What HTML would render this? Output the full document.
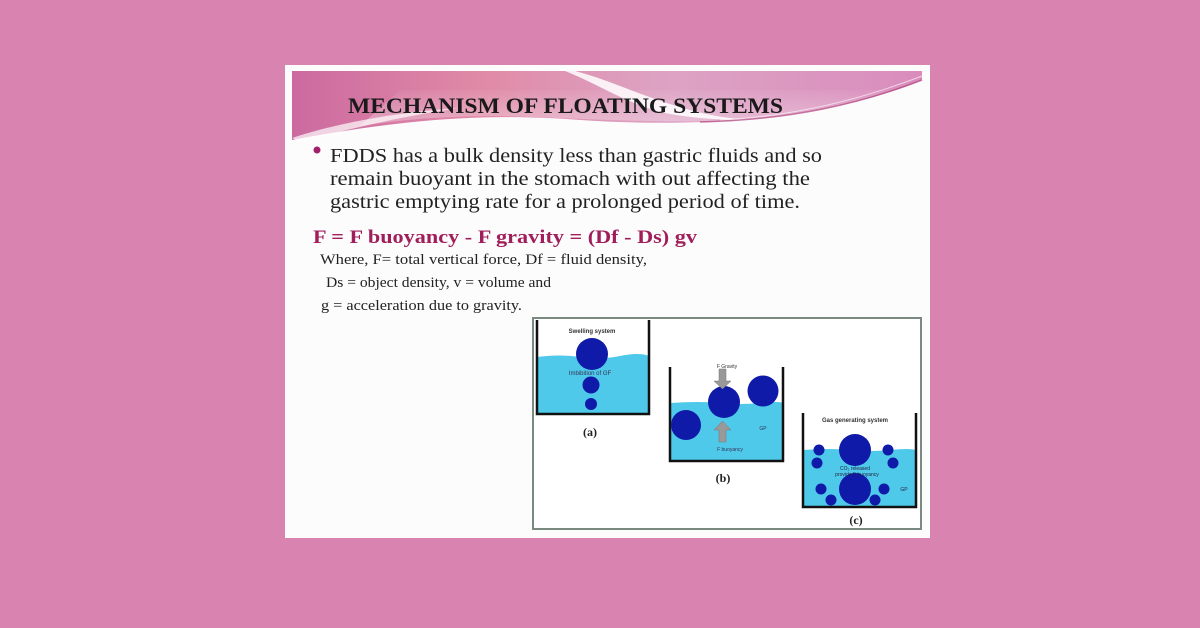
<!DOCTYPE html>
<html><head><meta charset="utf-8"><style>
html,body{margin:0;padding:0;background:#d983b0;}
svg{display:block}
</style></head><body>
<svg width="1200" height="628" viewBox="0 0 1200 628" xmlns="http://www.w3.org/2000/svg">
<defs>
<linearGradient id="hg" x1="0" y1="0" x2="1" y2="0">
<stop offset="0" stop-color="#cc6aa0"/><stop offset="0.3" stop-color="#e08aa6"/><stop offset="0.6" stop-color="#dda3c4"/><stop offset="1" stop-color="#d98cbc"/>
</linearGradient>
<linearGradient id="fade" x1="0" y1="0" x2="0" y2="1">
<stop offset="0" stop-color="#fff" stop-opacity="0"/><stop offset="1" stop-color="#fff" stop-opacity="0.35"/>
</linearGradient>
</defs>
<rect width="1200" height="628" fill="#d983b0"/>
<rect x="285" y="65" width="645" height="473" fill="#fdfcfd"/>
<!-- header -->
<path d="M292 71 L922 71 L922 80 C880 98 820 112 760 118 C700 124 640 124 580 120 C500 114 420 116 292 140 Z" fill="url(#hg)"/>
<path d="M400 90 L920 90 L920 85 C860 105 800 116 740 120 C660 124 580 118 500 116 C440 116 400 120 360 126 Z" fill="url(#fade)"/>
<path d="M575 71 C610 80 640 96 690 110 C720 118 740 120 760 119 C720 121 690 118 660 112 C620 100 600 85 565 71 Z" fill="#fff" opacity="0.85"/>
<path d="M292 138 C340 122 400 112 460 108 C410 115 360 126 300 142 Z" fill="#fff" opacity="0.7"/>
<path d="M700 122 C790 120 860 104 922 80" stroke="#b0407a" stroke-width="1.5" fill="none" opacity="0.7"/>
<path d="M720 120 C800 116 870 96 922 76" stroke="#fff" stroke-width="1" fill="none" opacity="0.6"/>
<text x="348" y="113" font-family="Liberation Serif, serif" font-weight="bold" font-size="22" fill="#1a1a1a" textLength="435" lengthAdjust="spacingAndGlyphs">MECHANISM OF FLOATING SYSTEMS</text>
<circle cx="317" cy="150" r="3.5" fill="#a0206a"/>
<g font-family="Liberation Serif, serif" font-size="20" fill="#222">
<text x="330" y="162" textLength="492" lengthAdjust="spacingAndGlyphs">FDDS has a bulk density less than gastric fluids and so</text>
<text x="330" y="185" textLength="480" lengthAdjust="spacingAndGlyphs">remain buoyant in the stomach with out affecting the</text>
<text x="330" y="208" textLength="470" lengthAdjust="spacingAndGlyphs">gastric emptying rate for a prolonged period of time.</text>
</g>
<text x="313" y="243" font-family="Liberation Serif, serif" font-weight="bold" font-size="19" fill="#a01f5a" textLength="384" lengthAdjust="spacingAndGlyphs">F = F buoyancy - F gravity = (Df - Ds) gv</text>
<g font-family="Liberation Serif, serif" font-size="14.5" fill="#222">
<text x="320" y="264" textLength="327" lengthAdjust="spacingAndGlyphs">Where, F= total vertical force,  Df = fluid density,</text>
<text x="326" y="287" textLength="225" lengthAdjust="spacingAndGlyphs">Ds = object density, v = volume and</text>
<text x="321" y="310" textLength="201" lengthAdjust="spacingAndGlyphs">g = acceleration due to gravity.</text>
</g>
<rect x="533" y="318" width="388" height="211" fill="#fff" stroke="#7a8a80" stroke-width="2"/>
<!-- (a) -->
<path d="M537 357 Q560 354 580 357 T620 356 T649 356 L649 414 L537 414 Z" fill="#4fc9ea"/>
<path d="M537 320 V414 H649 V320" stroke="#111" stroke-width="2.5" fill="none"/>
<circle cx="592" cy="354" r="16" fill="#0f1aa8"/>
<circle cx="591" cy="385" r="8.5" fill="#0f1aa8"/>
<circle cx="591" cy="404" r="6" fill="#0f1aa8"/>
<text x="592" y="333" font-family="Liberation Sans, sans-serif" font-size="6" font-weight="bold" fill="#333" text-anchor="middle">Swelling system</text>
<text x="590" y="375" font-family="Liberation Sans, sans-serif" font-size="6" fill="#335" text-anchor="middle">Imbibition of GF</text>
<text x="590" y="436" font-family="Liberation Serif, serif" font-size="12" font-weight="bold" fill="#222" text-anchor="middle">(a)</text>
<!-- (b) -->
<path d="M670 403 Q700 401 720 403 T760 403 T783 403 L783 461 L670 461 Z" fill="#4fc9ea"/>
<path d="M670 367 V461 H783 V367" stroke="#111" stroke-width="2.5" fill="none"/>
<circle cx="724" cy="402" r="16" fill="#0f1aa8"/>
<circle cx="763" cy="391" r="15.5" fill="#0f1aa8"/>
<circle cx="686" cy="425" r="15" fill="#0f1aa8"/>
<path d="M719 369 H726 V381 H731 L722.5 389 L714 381 H719 Z" fill="#999" stroke="#777" stroke-width="0.5"/>
<path d="M722.5 421 L731 430 H726 V442 H719 V430 H714 Z" fill="#999" stroke="#777" stroke-width="0.5"/>
<text x="727" y="368" font-family="Liberation Sans, sans-serif" font-size="5" fill="#333" text-anchor="middle">F Gravity</text>
<text x="730" y="451" font-family="Liberation Sans, sans-serif" font-size="5" fill="#335" text-anchor="middle">F buoyancy</text>
<text x="763" y="430" font-family="Liberation Sans, sans-serif" font-size="5" fill="#335" text-anchor="middle">GP</text>
<text x="723" y="482" font-family="Liberation Serif, serif" font-size="12" font-weight="bold" fill="#222" text-anchor="middle">(b)</text>
<!-- (c) -->
<path d="M803 450 Q830 448 850 450 T890 450 T916 450 L916 507 L803 507 Z" fill="#4fc9ea"/>
<path d="M803 413 V507 H916 V413" stroke="#111" stroke-width="2.5" fill="none"/>
<circle cx="855" cy="450" r="16" fill="#0f1aa8"/>
<circle cx="855" cy="489" r="16" fill="#0f1aa8"/>
<g fill="#0f1aa8">
<circle cx="819" cy="450" r="5.5"/><circle cx="888" cy="450" r="5.5"/>
<circle cx="817" cy="463" r="5.5"/><circle cx="893" cy="463" r="5.5"/>
<circle cx="821" cy="489" r="5.5"/><circle cx="884" cy="489" r="5.5"/>
<circle cx="831" cy="500" r="5.5"/><circle cx="875" cy="500" r="5.5"/>
</g>
<text x="855" y="422" font-family="Liberation Sans, sans-serif" font-size="6" font-weight="bold" fill="#333" text-anchor="middle">Gas generating system</text>
<text x="855" y="470" font-family="Liberation Sans, sans-serif" font-size="5" fill="#224" text-anchor="middle">CO₂ released</text>
<text x="857" y="476" font-family="Liberation Sans, sans-serif" font-size="5" fill="#224" text-anchor="middle">provide F buoyancy</text>
<text x="904" y="491" font-family="Liberation Sans, sans-serif" font-size="5" fill="#224" text-anchor="middle">GP</text>
<text x="856" y="524" font-family="Liberation Serif, serif" font-size="12" font-weight="bold" fill="#222" text-anchor="middle">(c)</text>
</svg>
</body></html>
